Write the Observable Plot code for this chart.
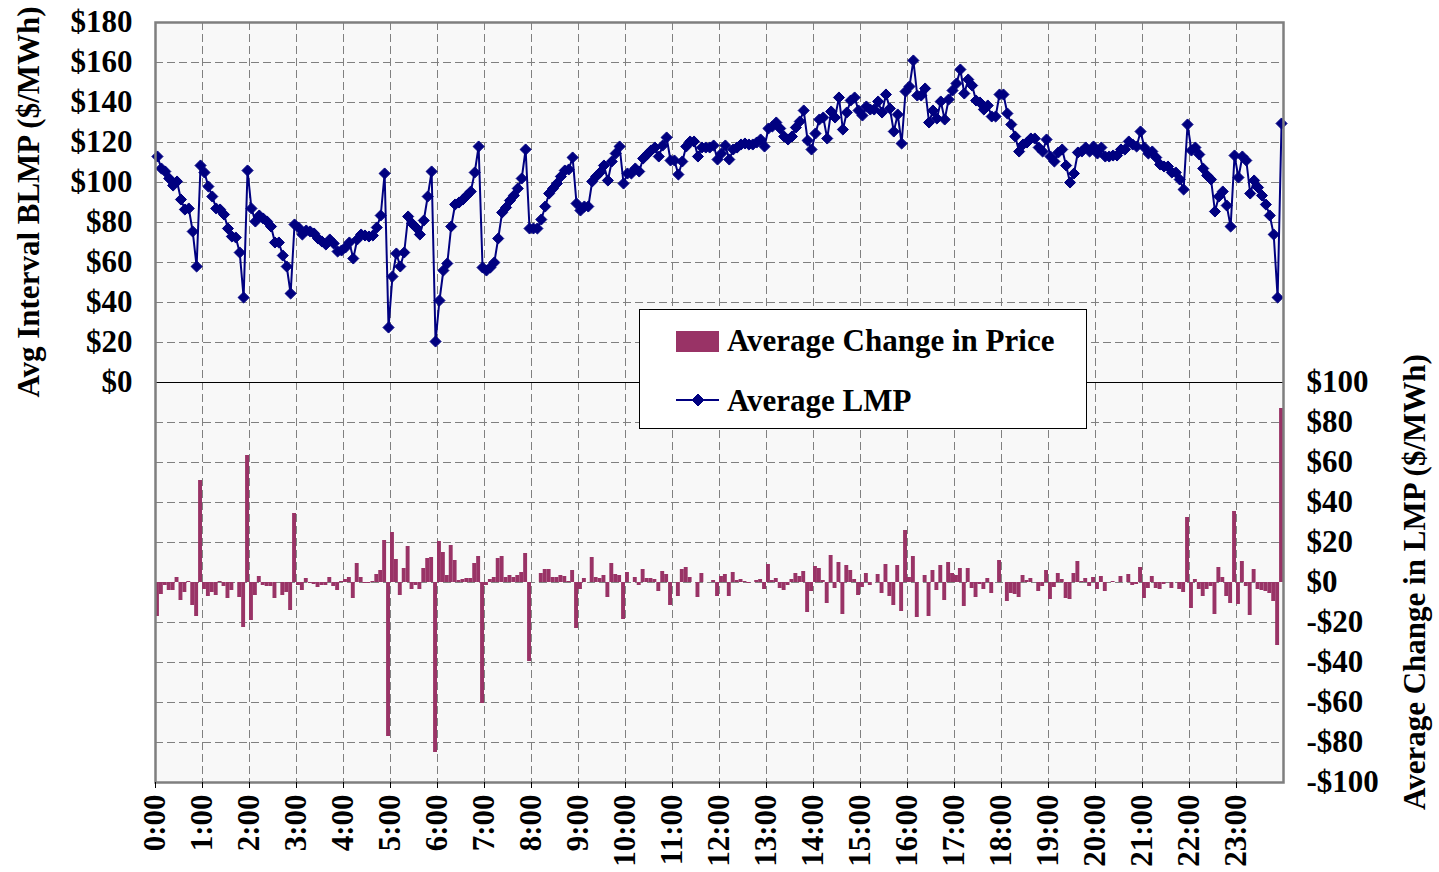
<!DOCTYPE html>
<html><head><meta charset="utf-8">
<script src="https://cdn.jsdelivr.net/npm/d3@7"></script>
<script src="https://cdn.jsdelivr.net/npm/@observablehq/plot@0.6"></script>
<style>
body{margin:0;background:#fff;}
#chart{position:relative;width:1439px;height:872px;}
</style></head><body><div id="chart"></div>
<script>
// Average LMP per 5-minute interval ($/MWh), left axis
const lmp = [
113,107,105.5,102,98.5,100.5,91.5,86.5,87,75.5,58,108.5,
105,98,93,87,86.5,84,77,73,72.5,65,42.5,106,
87,80.5,83.5,82,80.5,78,70,70,63.5,58,44.5,79,
77.5,74,76,75.5,74.5,72,70.5,69,71.5,69.5,65.5,66,
67.5,70,62,71.5,74,73.5,73,73.5,77.5,83.5,104.5,27.5,
53,64.5,58,65,83,79.5,77.5,74,81,93,105.5,20.5,
41,56,59.5,78,89,90,91.5,93.5,95.5,105,118,57.5,
56,57.5,60,72,85,87.5,91,93.5,97,102,116.5,77,
77,77,81.5,88,94.5,97,99.5,103,106,106.5,112.5,89.5,
86,88,88,100.5,103,105,108.5,101,110.5,114.5,118,99.5,
104.5,104.5,107,105.5,112,114,116,117.5,113,118.5,122.5,111,
111,104,110.5,118,120.5,120.5,113,117.5,117.5,117.5,118.5,111.5,
114.5,118.5,111.5,116.5,117.5,119,119.5,119,119,120,121.5,118,
127,128,130,127,123,121.5,123,127.5,130.5,136,121,116.5,
124.5,131.5,132.5,122,135.5,132.5,142.5,126.5,135,141,142.5,136,
133.5,138,136.5,136.5,140.5,135,144,137,125.5,134,119.5,145.5,
148,161,143.5,143.5,147,130,136,132,140.5,131.5,141.5,146,
149.5,156.5,144.5,151.5,148.5,141,140,136.5,138.5,133,133,144,
144,134.5,129,123,115.5,119,120,122,122,117.5,115.5,121.5,
113,110.5,115,116.5,108.5,100,104.5,115,115.5,117.5,115.5,118,
114.5,117.5,113,113,113.5,113.5,116.5,116.5,120.5,119,118,125.5,
117.5,114.5,115.5,112.5,109,108,108,105,105,101.5,96.5,129,
116,117.5,114,107,103.5,101.5,85.5,93,95.5,88.5,78,113.5,
102.5,113,111,94.5,101,97.5,93.5,89,83.5,74,42.5,129.5
];
// Average change in price per interval ($/MWh), right axis
const change = [
-17,-6,-1.5,-4,-4,2.5,-9,-5,0.5,-11.5,-17,51,
-3.5,-7,-5,-6.5,0.5,-2,-8,-4,0,-7.5,-22.5,63.5,
-19,-6.5,3,-1.5,-2,-2,-8,0,-6.5,-5,-14,34.5,
-1.5,-4,2,-0.5,-1,-2.5,-1.5,-1.5,2.5,-2,-4,0.5,
1.5,2.5,-8,9.5,2.5,-0.5,-0.5,0.5,4,6,21,-77,
25,11.5,-6.5,7,18,-3.5,-1.5,-3.5,7,12,12.5,-85,
20.5,15,3.5,18.5,11,1,1.5,2,2,9.5,13,-60.5,
-1.5,1.5,2.5,12,13,2.5,3.5,2.5,3.5,5,14.5,-39.5,
0,0,4.5,6.5,6.5,2.5,2.5,3.5,3,0.5,6,-23,
-3.5,2,0,12.5,2.5,2,3.5,-7.5,9.5,4,3.5,-18.5,
5,0,2.5,-1.5,6.5,2,2,1.5,-4.5,5.5,4,-11.5,
0,-7,6.5,7.5,2.5,0,-7.5,4.5,0,0,1,-7,
3,4,-7,5,1,1.5,0.5,-0.5,0,1,1.5,-3.5,
9,1,2,-3,-4,-1.5,1.5,4.5,3,5.5,-15,-4.5,
8,7,1,-10.5,13.5,-3,10,-16,8.5,6,1.5,-6.5,
-2.5,4.5,-1.5,0,4,-5.5,9,-7,-11.5,8.5,-14.5,26,
2.5,13,-17.5,0,3.5,-17,6,-4,8.5,-9,10,4.5,
3.5,7,-12,7,-3,-7.5,-1,-3.5,2,-5.5,0,11,
0,-9.5,-5.5,-6,-7.5,3.5,1,2,0,-4.5,-2,6,
-8.5,-2.5,4.5,1.5,-8,-8.5,4.5,10.5,0.5,2,-2,2.5,
-3.5,3,-4.5,0,0.5,0,3,0,4,-1.5,-1,7.5,
-8,-3,3,-3,-3.5,-1,0,-3,0,-3.5,-5,32.5,
-13,1.5,-3.5,-7,-3.5,-2,-16,7.5,2.5,-7,-10.5,35.5,
-11,10.5,-2,-16.5,6.5,-3.5,-4,-4.5,-5.5,-9.5,-31.5,87
];
const hourLabels = ["0:00","1:00","2:00","3:00","4:00","5:00","6:00","7:00","8:00","9:00","10:00","11:00",
  "12:00","13:00","14:00","15:00","16:00","17:00","18:00","19:00","20:00","21:00","22:00","23:00"];
const leftTickValues = [0,20,40,60,80,100,120,140,160,180];
const leftTickLabels = ["$0","$20","$40","$60","$80","$100","$120","$140","$160","$180"];
const rightTickValues = [-100,-80,-60,-40,-20,0,20,40,60,80,100];
const rightTickLabels = ["-$100","-$80","-$60","-$40","-$20","$0","$20","$40","$60","$80","$100"];
const seriesNames = ["Average Change in Price","Average LMP"];
const axisTitles = ["Avg Interval BLMP ($/MWh)","Average Change in LMP ($/MWh)"];

// The right axis zero sits at the left axis value -100 (both axes: 2 px per $)
const RIGHT_SHIFT = -100;
const perHour = 12;
const rows = lmp.map((v, i) => ({i, lmp: v, change: change[i]}));
const font = "'Liberation Serif','Times New Roman',serif";
const LINE = "#000080", BAR = "#993366", GRID = "#808080";

const chart = Plot.plot({
  width: 1439, height: 872,
  marginLeft: 155, marginRight: 156, marginTop: 22, marginBottom: 90,
  x: {domain: [0, lmp.length]},
  y: {domain: [-200, 180]},
  style: {fontFamily: font, fontWeight: "bold", fontSize: "31px", color: "black", background: "white", overflow: "visible"},
  marks: [
    Plot.frame({fill: "#f8f8f8", stroke: null}),
    Plot.gridY(d3.range(-200, 181, 20), {stroke: GRID, strokeOpacity: 1, strokeDasharray: "8,4"}),
    Plot.gridX(hourLabels.map((d, h) => h * perHour).slice(1), {stroke: GRID, strokeOpacity: 1, strokeDasharray: "8,4"}),
    Plot.rect(rows, {x1: "i", x2: d => d.i + 1, y1: () => RIGHT_SHIFT, y2: d => d.change + RIGHT_SHIFT, fill: BAR}),
    Plot.ruleY([0], {stroke: "black", strokeWidth: 1.2}),
    Plot.line(rows, {x: d => d.i + 0.5, y: "lmp", stroke: LINE, strokeWidth: 2}),
    Plot.dot(rows, {x: d => d.i + 0.5, y: "lmp", symbol: "diamond2", r: 5, fill: LINE, stroke: LINE, strokeWidth: 1}),
    Plot.frame({stroke: "#7f7f7f", strokeWidth: 2.5}),
    Plot.axisY(leftTickValues, {anchor: "left", tickSize: 0, tickPadding: 23, label: null,
      tickFormat: d => leftTickLabels[leftTickValues.indexOf(d)], fontSize: 31, fontWeight: "bold"}),
    Plot.axisY(rightTickValues.map(v => v + RIGHT_SHIFT), {anchor: "right", tickSize: 0, tickPadding: 23, label: null,
      tickFormat: d => rightTickLabels[rightTickValues.indexOf(d - RIGHT_SHIFT)], fontSize: 31, fontWeight: "bold"}),
    Plot.axisX(hourLabels.map((d, h) => h * perHour), {anchor: "bottom", tickRotate: -90, tickSize: 6, tickPadding: 6, label: null,
      tickFormat: d => hourLabels[d / perHour], fontSize: 31, fontWeight: "bold"})
  ]
});
document.getElementById("chart").appendChild(chart);

const sx = chart.scale("x"), sy = chart.scale("y");
const svg = d3.select(chart);
// axis titles
svg.append("text")
  .attr("transform", `translate(28,${sy.apply(90)}) rotate(-90)`)
  .attr("text-anchor", "middle").attr("dominant-baseline", "central")
  .style("font", `bold 31px ${font}`).text(axisTitles[0]);
svg.append("text")
  .attr("transform", `translate(1414,${sy.apply(RIGHT_SHIFT)}) rotate(-90)`)
  .attr("text-anchor", "middle").attr("dominant-baseline", "central")
  .style("font", `bold 31px ${font}`).text(axisTitles[1]);

// legend
const lg = svg.append("g").style("font", `bold 31px ${font}`).attr("text-anchor", "start");
lg.append("rect").attr("x", 639.5).attr("y", 309.5).attr("width", 447).attr("height", 119)
  .attr("fill", "white").attr("stroke", "black").attr("stroke-width", 1);
lg.append("rect").attr("x", 676).attr("y", 331).attr("width", 43).attr("height", 21).attr("fill", BAR);
lg.append("text").attr("x", 727).attr("y", 351).attr("text-anchor", "start").text(seriesNames[0]);
lg.append("line").attr("x1", 676).attr("x2", 719).attr("y1", 400).attr("y2", 400).attr("stroke", LINE).attr("stroke-width", 2);
lg.append("path").attr("d", "M698,394L704,400L698,406L692,400Z").attr("fill", LINE).attr("stroke", LINE);
lg.append("text").attr("x", 727).attr("y", 411).attr("text-anchor", "start").text(seriesNames[1]);
</script></body></html>
